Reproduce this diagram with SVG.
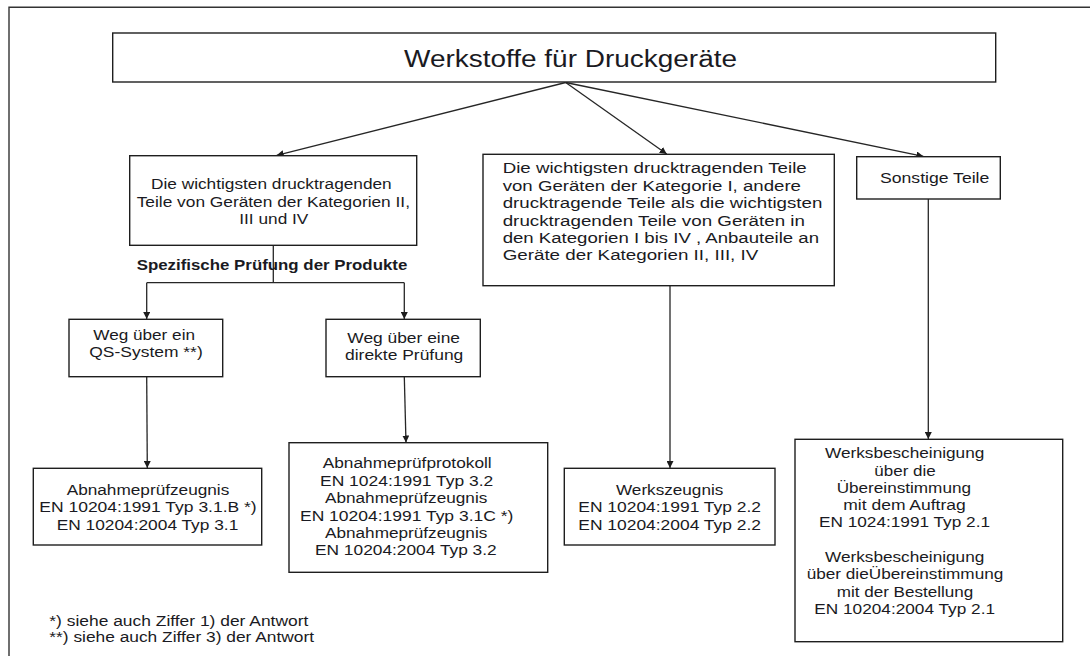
<svg xmlns="http://www.w3.org/2000/svg" width="1090" height="656" viewBox="0 0 1090 656">
<style>
.box{fill:#fff;stroke:#1e1e1e;stroke-width:1.4}
.t{font-family:"Liberation Sans",Arial,sans-serif;font-size:15.5px;fill:#1a1a22}
.b{font-weight:bold}
.ln{fill:none;stroke:#262626;stroke-width:1.3}
</style>
<defs>
<marker id="ah" viewBox="0 0 10 10" refX="10" refY="5" markerWidth="7" markerHeight="7" markerUnits="userSpaceOnUse" orient="auto">
<path d="M0,0 L10,5 L0,10 z" fill="#1c1c1c"/>
</marker>
</defs>
<rect width="1090" height="656" fill="#fff"/>
<path d="M9,656 V7.3 H1090" fill="none" stroke="#333" stroke-width="1.4"/>

<g id="connectors">
<line class="ln" x1="565.7" y1="82.5" x2="276.7" y2="155.3" marker-end="url(#ah)"/>
<line class="ln" x1="565.7" y1="82.5" x2="666.7" y2="154" marker-end="url(#ah)"/>
<line class="ln" x1="565.7" y1="82.5" x2="923.3" y2="156.3" marker-end="url(#ah)"/>
<polyline class="ln" points="273.3,245.3 273.3,282.7"/>
<polyline class="ln" points="146.7,282.7 404.3,282.7"/>
<line class="ln" x1="146.7" y1="282.7" x2="146.7" y2="319" marker-end="url(#ah)"/>
<line class="ln" x1="404.3" y1="282.7" x2="404.3" y2="319" marker-end="url(#ah)"/>
<line class="ln" x1="146.7" y1="376.7" x2="147.3" y2="468" marker-end="url(#ah)"/>
<line class="ln" x1="404.3" y1="376.7" x2="406" y2="442.5" marker-end="url(#ah)"/>
<line class="ln" x1="670" y1="285.7" x2="670" y2="468" marker-end="url(#ah)"/>
<line class="ln" x1="928.3" y1="199" x2="928.3" y2="439" marker-end="url(#ah)"/>
</g>

<g id="title">
<rect class="box" x="112.7" y="33" width="883" height="49"/>
<text class="t" x="404" y="67" style="font-size:23px" textLength="333" lengthAdjust="spacingAndGlyphs">Werkstoffe für Druckgeräte</text>
</g>

<g id="nodeA">
<rect class="box" x="129.7" y="155.7" width="287" height="89.6"/>
<text class="t" x="151" y="189" textLength="240.7" lengthAdjust="spacingAndGlyphs">Die wichtigsten drucktragenden</text>
<text class="t" x="136.7" y="206.7" textLength="273.3" lengthAdjust="spacingAndGlyphs">Teile von Geräten der Kategorien II,</text>
<text class="t" x="239.3" y="224.2" textLength="69" lengthAdjust="spacingAndGlyphs">III und IV</text>
</g>

<g id="label-spez">
<text class="t b" x="136.7" y="270" textLength="270.6" lengthAdjust="spacingAndGlyphs">Spezifische Prüfung der Produkte</text>
</g>

<g id="nodeB">
<rect class="box" x="483" y="154.3" width="351.3" height="131.4"/>
<text class="t" x="502.7" y="173.3" textLength="304" lengthAdjust="spacingAndGlyphs">Die wichtigsten drucktragenden Teile</text>
<text class="t" x="502.7" y="190.7" textLength="298.3" lengthAdjust="spacingAndGlyphs">von Geräten der Kategorie I, andere</text>
<text class="t" x="502.7" y="208.2" textLength="319.6" lengthAdjust="spacingAndGlyphs">drucktragende Teile als die wichtigsten</text>
<text class="t" x="502.7" y="225.8" textLength="302.3" lengthAdjust="spacingAndGlyphs">drucktragenden Teile von Geräten in</text>
<text class="t" x="502.7" y="243.2" textLength="316.3" lengthAdjust="spacingAndGlyphs">den Kategorien I bis IV , Anbauteile an</text>
<text class="t" x="502.7" y="260" textLength="255.6" lengthAdjust="spacingAndGlyphs">Geräte der Kategorien II, III, IV</text>
</g>

<g id="nodeSonstige">
<rect class="box" x="856.7" y="156.7" width="143.6" height="42.3"/>
<text class="t" x="880" y="182.7" textLength="109.3" lengthAdjust="spacingAndGlyphs">Sonstige Teile</text>
</g>

<g id="nodeWeg1">
<rect class="box" x="69" y="319.3" width="153.7" height="57.4"/>
<text class="t" x="93.3" y="340" textLength="101.7" lengthAdjust="spacingAndGlyphs">Weg über ein</text>
<text class="t" x="89.3" y="357.3" textLength="113.4" lengthAdjust="spacingAndGlyphs">QS-System **)</text>
</g>

<g id="nodeWeg2">
<rect class="box" x="326" y="319.3" width="154.3" height="57.4"/>
<text class="t" x="347.3" y="343.3" textLength="112.7" lengthAdjust="spacingAndGlyphs">Weg über eine</text>
<text class="t" x="345" y="360" textLength="118.3" lengthAdjust="spacingAndGlyphs">direkte Prüfung</text>
</g>

<g id="nodeAbn1">
<rect class="box" x="33.3" y="468.3" width="228.4" height="76.7"/>
<text class="t" x="66.7" y="495" textLength="162.6" lengthAdjust="spacingAndGlyphs">Abnahmeprüfzeugnis</text>
<text class="t" x="39.3" y="512.3" textLength="217.4" lengthAdjust="spacingAndGlyphs">EN 10204:1991 Typ 3.1.B *)</text>
<text class="t" x="56.7" y="529.8" textLength="181.6" lengthAdjust="spacingAndGlyphs">EN 10204:2004 Typ 3.1</text>
</g>

<g id="nodeAbn2">
<rect class="box" x="289" y="442.7" width="258.7" height="129.6"/>
<text class="t" x="322.7" y="468.3" textLength="169" lengthAdjust="spacingAndGlyphs">Abnahmeprüfprotokoll</text>
<text class="t" x="320" y="485.7" textLength="173.3" lengthAdjust="spacingAndGlyphs">EN 1024:1991 Typ 3.2</text>
<text class="t" x="325" y="503.3" textLength="162.3" lengthAdjust="spacingAndGlyphs">Abnahmeprüfzeugnis</text>
<text class="t" x="300" y="520.7" textLength="213.3" lengthAdjust="spacingAndGlyphs">EN 10204:1991 Typ 3.1C *)</text>
<text class="t" x="325" y="537.5" textLength="162.3" lengthAdjust="spacingAndGlyphs">Abnahmeprüfzeugnis</text>
<text class="t" x="315" y="554.8" textLength="181.7" lengthAdjust="spacingAndGlyphs">EN 10204:2004 Typ 3.2</text>
</g>

<g id="nodeWerkszeugnis">
<rect class="box" x="564.3" y="468.3" width="210.7" height="76.7"/>
<text class="t" x="616" y="495" textLength="107.3" lengthAdjust="spacingAndGlyphs">Werkszeugnis</text>
<text class="t" x="578.3" y="512.3" textLength="182.7" lengthAdjust="spacingAndGlyphs">EN 10204:1991 Typ 2.2</text>
<text class="t" x="578.3" y="529.8" textLength="182.7" lengthAdjust="spacingAndGlyphs">EN 10204:2004 Typ 2.2</text>
</g>

<g id="nodeWerksbescheinigung">
<rect class="box" x="795" y="439.3" width="267.7" height="202.4"/>
<text class="t" x="825" y="458.3" textLength="159.3" lengthAdjust="spacingAndGlyphs">Werksbescheinigung</text>
<text class="t" x="874.3" y="475.7" textLength="61.4" lengthAdjust="spacingAndGlyphs">über die</text>
<text class="t" x="836.7" y="492.7" textLength="134.3" lengthAdjust="spacingAndGlyphs">Übereinstimmung</text>
<text class="t" x="843.3" y="510" textLength="122.4" lengthAdjust="spacingAndGlyphs">mit dem Auftrag</text>
<text class="t" x="819" y="527.3" textLength="171" lengthAdjust="spacingAndGlyphs">EN 1024:1991 Typ 2.1</text>
<text class="t" x="825" y="561.7" textLength="159.3" lengthAdjust="spacingAndGlyphs">Werksbescheinigung</text>
<text class="t" x="806.7" y="579.2" textLength="196.6" lengthAdjust="spacingAndGlyphs">über dieÜbereinstimmung</text>
<text class="t" x="836.7" y="596.6" textLength="136.6" lengthAdjust="spacingAndGlyphs">mit der Bestellung</text>
<text class="t" x="814.3" y="614" textLength="180.7" lengthAdjust="spacingAndGlyphs">EN 10204:2004 Typ 2.1</text>
</g>

<g id="footnotes">
<text class="t" x="49.3" y="626" textLength="259" lengthAdjust="spacingAndGlyphs">*) siehe auch Ziffer 1) der Antwort</text>
<text class="t" x="49.3" y="641.7" textLength="264.7" lengthAdjust="spacingAndGlyphs">**) siehe auch Ziffer 3) der Antwort</text>
</g>
</svg>
